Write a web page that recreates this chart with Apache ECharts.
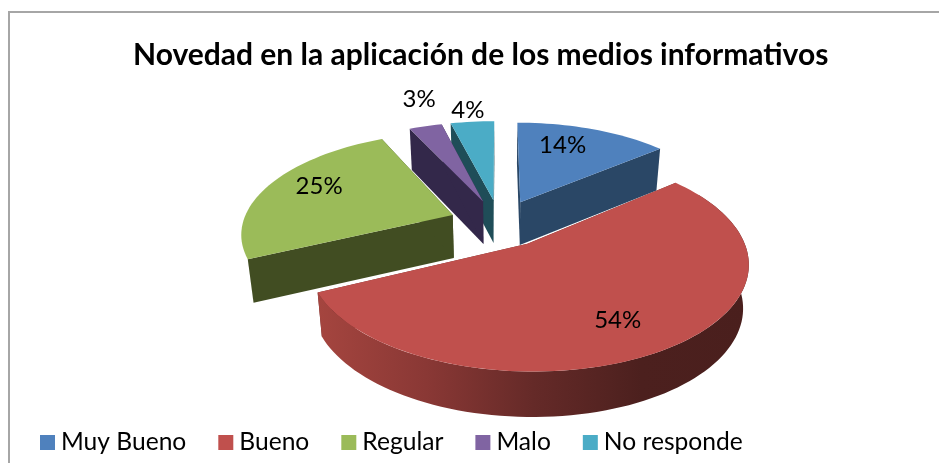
<!DOCTYPE html>
<html><head><meta charset="utf-8">
<style>html,body{margin:0;padding:0;background:#fff}#c{width:939px;height:463px}</style>
<script src="https://cdn.jsdelivr.net/npm/echarts@6/dist/echarts.min.js"></script>
</head><body><div id="c"></div>
<script>
const titleText = 'Novedad en la aplicación de los medios informativos';
const categories = ['Muy Bueno', 'Bueno', 'Regular', 'Malo', 'No responde'];
const values = [14, 54, 25, 3, 4];

const topColors = ['#4f81bd', '#c0504d', '#9bbb59', '#8064a2', '#4bacc6'];
const cutColors = ['#2a4766', '#6e2c2a', '#414d22', '#33284a', '#1f4d58'];
const rimStops = [
  null,
  ['#a5453f', '#8a3835', '#652a28', '#4c201e', '#4a1f1d'],
  null,
  null,
  null
];
const paintOrder = [3, 5, 4, 2, 1]; // back slices first
const labelRadius = [0.75, 0.75, 0.75, 1.03, 1.03];
const labelNudgeX = [-14, -11, 5, -5, -4];
const labelNudgeY = [0, 1, -5, -25, -9];

// projection of the tilted pie
const CX = 499.5, CY = 223, RX = 210, RY = 99, PERSP = 0.165, EXPLODE = 0.24, DEPTH = 43, LOW_SCALE = 0.977;
const total = values.reduce((a, b) => a + b, 0);
const rad = d => d * Math.PI / 180;
const startAngles = [];
values.reduce((acc, v, i) => { startAngles[i] = acc; return acc + v / total * 360; }, 0);

function project(x, y, low) {
  const s = 1 / (1 - PERSP * y);
  const px = CX + RX * x * s, py = CY + RY * y * s;
  if (!low) return [px, py];
  return [CX + (px - CX) * LOW_SCALE, py + DEPTH + 10 * (s - 1)];
}
function polar(angle, r, ox, oy, low) {
  return project(ox + r * Math.sin(rad(angle)), oy - r * Math.cos(rad(angle)), low);
}

function renderSlice(idx, value) {
  const a0 = startAngles[idx], a1 = a0 + value / total * 360, mid = (a0 + a1) / 2;
  const ox = EXPLODE * Math.sin(rad(mid)), oy = -EXPLODE * Math.cos(rad(mid));
  const arc = (from, to, low) => {
    const n = Math.max(2, Math.ceil((to - from) / 2)), pts = [];
    for (let i = 0; i <= n; i++) pts.push(polar(from + (to - from) * i / n, 1, ox, oy, low));
    return pts;
  };
  const apex = project(ox, oy), apexLow = project(ox, oy, true);
  const children = [];
  const p0 = polar(a0, 1, ox, oy), p0l = polar(a0, 1, ox, oy, true);
  const p1 = polar(a1, 1, ox, oy), p1l = polar(a1, 1, ox, oy, true);
  const cut = { fill: cutColors[idx] };
  children.push({ type: 'polygon', shape: { points: [apex, p0, p0l, apexLow] }, style: cut, silent: true });
  children.push({ type: 'polygon', shape: { points: [apex, p1, p1l, apexLow] }, style: cut, silent: true });
  const stops = rimStops[idx];
  if (stops) {
    const w0 = Math.max(a0, 60), w1 = Math.min(a1, 300);
    children.push({
      type: 'polygon',
      shape: { points: arc(w0, w1, false).concat(arc(w0, w1, true).reverse()) },
      style: { fill: { type: 'linear', x: 0, y: 0, x2: 1, y2: 0,
        colorStops: stops.map((c, i) => ({ offset: i / (stops.length - 1), color: c })) } },
      silent: true
    });
  }
  children.push({ type: 'polygon', shape: { points: [apex].concat(arc(a0, a1, false)) },
    style: { fill: topColors[idx] }, silent: true });
  const lp = polar(mid, labelRadius[idx], ox, oy);
  children.push({ type: 'text', z2: 100, style: {
    x: lp[0] + labelNudgeX[idx], y: lp[1] + labelNudgeY[idx],
    text: Math.round(value / total * 100) + '%',
    font: '24px Lato', fill: '#000', align: 'center', verticalAlign: 'middle' }, silent: true });
  return { type: 'group', children };
}

const chart = echarts.init(document.getElementById('c'), null, { renderer: 'canvas' });
chart.setOption({
  animation: false,
  backgroundColor: '#fff',
  title: { text: titleText, left: 128, top: 35,
    textStyle: { fontFamily: 'Lato', fontWeight: 'bold', fontSize: 30, color: '#000' } },
  legend: { data: categories, left: 35, top: 425, itemWidth: 15, itemHeight: 15, itemGap: 32, icon: 'rect',
    selectedMode: false,
    textStyle: { fontFamily: 'Lato', fontSize: 24.6, color: '#000', padding: [0, 0, 0, 1] } },
  graphic: [{ type: 'rect', silent: true, z: -1,
    shape: { x: 9, y: 12, width: 960, height: 480 },
    style: { fill: 'none', stroke: '#a6a6a6', lineWidth: 2 } }],
  series: categories.map((name, i) => ({
    type: 'custom', name, coordinateSystem: 'none', z: paintOrder[i],
    itemStyle: { color: topColors[i] },
    data: [[values[i]]],
    renderItem: (params, api) => renderSlice(i, api.value(0))
  }))
});
</script></body></html>
